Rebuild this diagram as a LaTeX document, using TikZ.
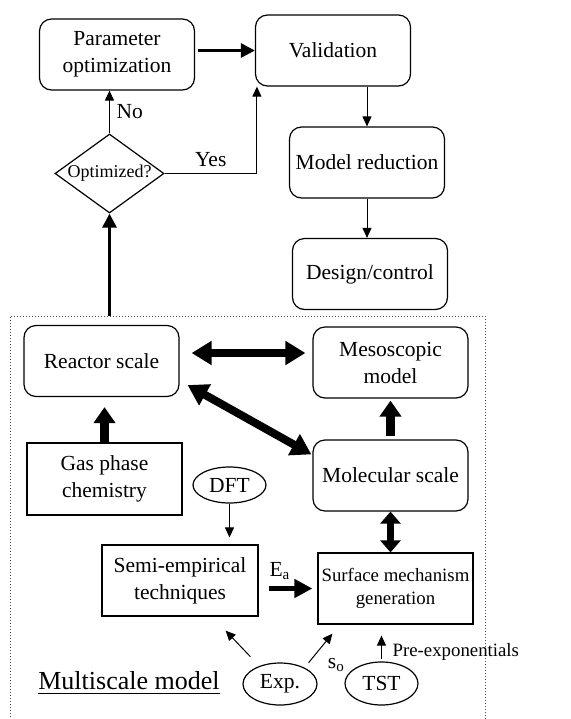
\documentclass[tikz,border=0pt]{standalone}
\usepackage{fontspec}
\setmainfont{Liberation Serif}
\usetikzlibrary{positioning, arrows.meta, shapes.geometric}

\begin{document}
\begin{tikzpicture}[x=0.5pt,y=-0.5pt,roundbox/.style={draw=black,line width=0.6pt,rounded corners=6pt,fill=white,align=center,inner sep=1pt,font=\fontsize{10.75}{13.5}\selectfont,minimum width=77.5pt,minimum height=35.5pt},sharpbox/.style={roundbox,rounded corners=0pt},oval/.style={draw=black,line width=0.6pt,ellipse,inner sep=0pt,font=\fontsize{10.75}{13.5}\selectfont,minimum width=37pt,minimum height=21pt},decision/.style={draw=black,line width=0.6pt,diamond,aspect=1.38,inner sep=0pt,font=\fontsize{9}{11}\selectfont,minimum width=54.5pt,minimum height=39.5pt},thinarrow/.style={line width=0.5pt,-{Triangle[length=5pt,width=4.5pt]}},thickarrow/.style={line width=1.5pt,-{Triangle[length=7pt,width=7pt]}},midarrow/.style={line width=2.2pt,-{Triangle[length=9pt,width=9pt]}},blockarrow/.style={line width=4.5pt,-{Triangle[length=8pt,width=10.5pt]}},blockboth/.style={line width=4pt,{Triangle[length=10pt,width=11.5pt]}-{Triangle[length=10pt,width=11.5pt]}},lbl/.style={font=\fontsize{10.75}{13.5}\selectfont},smalllbl/.style={font=\fontsize{9.4}{11.8}\selectfont}]
\useasboundingbox (0,0) rectangle (571,719);
% top: optimisation loop
\node[roundbox] (param) at (117,54.5) {Parameter\\optimization};
\node[roundbox] (valid) at (333,50.5) {Validation};
\node[roundbox] (redu) at (367,162.5) {Model reduction};
\node[roundbox] (design) at (370,274) {Design/control};
\node[decision] (opt) at (109.5,173.5) {Optimized?};
\draw[thickarrow, shorten <=1.5pt] (param.east |- valid.west) -- (valid.west);
\draw[thinarrow] (redu.north |- valid.south) -- (redu.north);\draw[thinarrow] (redu.south) -- (redu.south |- design.north);
\draw[thinarrow] (opt.north) -- (opt.north |- param.south) node[midway, right, lbl] {No};
\draw[thinarrow] (opt.east) -| ([xshift=1pt]valid.south west) node[pos=0.25, above, lbl] {Yes};
% multiscale frame
\node[draw=black!70, densely dotted, line width=0.5pt, minimum width=237.5pt, minimum height=204pt, inner sep=0pt] (frame) at (247.5,520) {};
\draw[thickarrow] (frame.north -| opt.south) -- (opt.south);
\node[roundbox] (react) at (101.5,361) {Reactor scale};
\node[roundbox] (meso) at (390.5,362.5) {Mesoscopic\\model};
\node[sharpbox, minimum height=36pt] (gas) at (104.5,479) {Gas phase\\chemistry};
\node[roundbox] (mol) at (390.5,475.5) {Molecular scale};
\node[oval, minimum width=36.5pt, minimum height=18pt] (dft) at (229.5,485) {DFT};
\node[sharpbox, minimum width=78pt] (semi) at (180,580.5) {Semi-empirical\\techniques};
\node[sharpbox, font=\fontsize{9.4}{11.8}\selectfont] (surf) at (395.5,588.5) {Surface mechanism\\generation};
\node[oval] (exp) at (280,684) {Exp.};
\node[oval, minimum width=36.5pt, minimum height=21.5pt] (tst) at (381.5,683.5) {TST};
\node[font=\fontsize{13}{15}\selectfont] (multi) at (129,683) {\underline{Multiscale model}};
\draw[blockboth, shorten <=6pt, shorten >=3.5pt] ([yshift=4pt]react.east) -- ([yshift=4pt]react.east -| meso.west);
\draw[blockboth] ([shift={(8,-12)}]react.south east) -- ([shift={(-1,15)}]mol.north west);
\draw[blockarrow, shorten >=5pt] (gas.north) -- (gas.north |- react.south);
\draw[blockarrow, shorten <=1.5pt, shorten >=1pt] (mol.north) -- (mol.north |- meso.south);
\draw[blockboth, line width=3.5pt, {Triangle[length=6pt,width=10pt]}-{Triangle[length=6pt,width=10pt]}] (mol.south) -- (mol.south |- surf.north);
\draw[thinarrow, shorten >=3.5pt] (dft.south) -- (dft.south |- semi.north);
\draw[midarrow, shorten <=5pt, shorten >=2.5pt] (semi.east |- surf.west) -- (surf.west) node[midway, above, xshift=-4pt, lbl] {E\textsubscript{a}};
\draw[thinarrow] ([shift={(-3,-12)}]exp.north west) -- ([shift={(-33,14)}]semi.south east);
\draw[thinarrow] ([shift={(2,-6)}]exp.north east) -- ([shift={(15,9)}]surf.south west) node[pos=0.05, right, xshift=5.5pt, yshift=-2pt, lbl] {s\textsubscript{o}};
\draw[thinarrow, shorten <=1pt, shorten >=5.5pt] (tst.north) -- (tst.north |- surf.south) node[pos=0.25, right, xshift=2pt, smalllbl] {Pre-exponentials};
\end{tikzpicture}
\end{document}
